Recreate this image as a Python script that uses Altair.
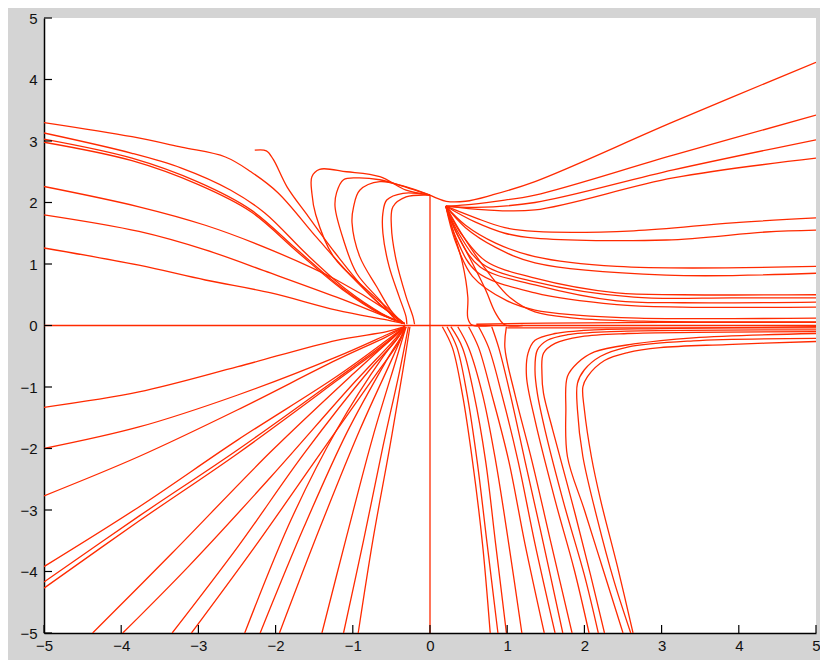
import altair as alt
import pandas as pd

TICKS = [-5, -4, -3, -2, -1, 0, 1, 2, 3, 4, 5]
RED = "#ff2a00"

# upper-left trajectories flowing into the node near (-0.33, 0)
UL_X = [
    [-5, -3.86, -3.22, -2.65, -2.32, -1.97, -1.46, -0.95, -0.56, -0.33],
    [-5, -3.86, -3.22, -2.58, -2.14, -1.59, -1.08, -0.63, -0.33],
    [-5, -3.86, -3.0, -2.32, -1.72, -1.14, -0.63, -0.33],
    [-5, -3.86, -3.0, -2.32, -1.72, -1.14, -0.63, -0.33],
    [-2.27, -2.12, -2.03, -1.85, -1.58, -1.21, -0.78, -0.44, -0.33],
    [-5, -3.77, -2.91, -2.06, -1.21, -0.56, -0.33],
    [-5, -3.77, -2.91, -2.06, -1.21, -0.56, -0.33],
    [-5, -3.77, -2.91, -2.06, -1.21, -0.56, -0.33],
]
UL_Y = [
    [3.30, 3.07, 2.90, 2.74, 2.50, 2.16, 1.42, 0.71, 0.25, 0.03],
    [3.13, 2.80, 2.56, 2.20, 1.83, 1.15, 0.58, 0.20, 0.03],
    [3.03, 2.72, 2.33, 1.88, 1.23, 0.61, 0.19, 0.03],
    [2.98, 2.68, 2.29, 1.85, 1.20, 0.59, 0.18, 0.03],
    [2.85, 2.84, 2.70, 2.25, 1.78, 1.15, 0.50, 0.12, 0.03],
    [2.26, 1.93, 1.63, 1.23, 0.74, 0.25, 0.03],
    [1.80, 1.53, 1.23, 0.85, 0.46, 0.14, 0.03],
    [1.26, 0.98, 0.74, 0.53, 0.25, 0.09, 0.03],
]

# arcs from the top of the vertical line (0, 2.12) curling down into the node
ARC_X = [
    [0, -0.31, -0.65, -1.08, -1.43, -1.53, -1.53, -1.48, -1.25, -0.82, -0.48, -0.36],
    [0, -0.44, -0.65, -0.95, -1.12, -1.21, -1.23, -1.12, -0.95, -0.65, -0.44, -0.33],
    [0, -0.35, -0.65, -0.91, -0.99, -1.01, -0.91, -0.69, -0.48, -0.33],
    [0, -0.35, -0.56, -0.61, -0.61, -0.53, -0.40, -0.31, -0.30],
    [0, -0.31, -0.48, -0.50, -0.44, -0.31, -0.22, -0.20],
]
ARC_Y = [
    [2.12, 2.20, 2.42, 2.50, 2.54, 2.42, 2.15, 1.80, 1.12, 0.58, 0.20, 0.03],
    [2.12, 2.30, 2.37, 2.40, 2.37, 2.16, 1.93, 1.39, 0.85, 0.41, 0.09, 0.03],
    [2.12, 2.27, 2.34, 2.20, 1.93, 1.67, 1.12, 0.63, 0.20, 0.03],
    [2.12, 2.15, 2.04, 1.83, 1.50, 0.96, 0.47, 0.14, 0.02],
    [2.12, 2.09, 1.93, 1.61, 1.07, 0.47, 0.14, 0.02],
]

# fan of trajectories leaving the point near (0.2, 1.94) to the right
FAN_X = [
    [0, 0.21, 0.46, 0.80, 1.36, 3.15, 5.0],
    [0.205, 0.46, 0.85, 1.36, 3.15, 5.0],
    [0.205, 0.59, 1.36, 3.15, 5.0],
    [0.205, 0.72, 1.36, 3.15, 5.0],
    [0.205, 0.59, 0.97, 1.36, 2.64, 3.92, 5.0],
    [0.205, 0.59, 0.97, 1.36, 3.06, 4.35, 5.0],
    [0.205, 0.46, 0.85, 1.36, 2.42, 5.0],
    [0.205, 0.46, 0.85, 1.36, 3.06, 5.0],
    [0.205, 0.40, 0.72, 1.36, 2.42, 3.27, 5.0],
    [0.205, 0.38, 0.68, 1.36, 2.64, 3.92, 5.0],
    [0.205, 0.36, 0.65, 1.36, 2.42, 3.27, 5.0],
    [0.205, 0.34, 0.60, 1.36, 2.42, 3.27, 5.0],
    [0.205, 0.32, 0.55, 1.0, 1.36, 1.9, 2.7, 5.0],
    [0.205, 0.46, 0.78, 1.04, 1.36, 1.87, 2.77, 5.0],
    [0.205, 0.295, 0.42, 0.49, 0.49, 0.54, 0.8],
    [0.205, 0.33, 0.53, 0.72, 0.85, 0.97, 1.2],
]
FAN_Y = [
    [2.12, 2.02, 2.02, 2.12, 2.34, 3.31, 4.28],
    [1.94, 1.96, 2.02, 2.12, 2.77, 3.42],
    [1.94, 1.92, 2.00, 2.53, 3.02],
    [1.94, 1.88, 1.88, 2.40, 2.72],
    [1.94, 1.75, 1.59, 1.53, 1.54, 1.67, 1.75],
    [1.94, 1.68, 1.50, 1.42, 1.39, 1.52, 1.55],
    [1.94, 1.63, 1.34, 1.12, 0.96, 0.96],
    [1.94, 1.59, 1.27, 1.02, 0.82, 0.85],
    [1.94, 1.50, 1.05, 0.77, 0.53, 0.50, 0.50],
    [1.94, 1.48, 1.00, 0.71, 0.46, 0.45, 0.45],
    [1.94, 1.46, 0.95, 0.66, 0.40, 0.37, 0.38],
    [1.94, 1.42, 0.88, 0.53, 0.34, 0.30, 0.30],
    [1.94, 1.40, 0.80, 0.40, 0.25, 0.17, 0.12, 0.12],
    [1.94, 1.39, 0.82, 0.45, 0.22, 0.12, 0.07, 0.06],
    [1.94, 1.55, 1.02, 0.46, 0.12, 0.01, 0.0],
    [1.94, 1.55, 1.06, 0.58, 0.20, 0.01, 0.0],
]

# lower-left trajectories from the left edge into the node
LL_X = [-5, -3.77, -2.49, -1.21, -0.56, -0.33]
LL_Y = [
    [-1.33, -1.08, -0.67, -0.24, -0.10, -0.02],
    [-2.00, -1.65, -1.13, -0.51, -0.15, -0.02],
    [-2.77, -2.13, -1.37, -0.56, -0.18, -0.02],
    [-3.92, -2.95, -1.86, -0.83, -0.24, -0.02],
    [-4.17, -3.10, -2.02, -0.87, -0.27, -0.02],
    [-4.27, -3.18, -2.08, -0.90, -0.29, -0.02],
]

# lower-left trajectories from the bottom edge into the node
LB_X = [
    [-4.37, -3.34, -2.06, -0.99, -0.44, -0.33],
    [-3.98, -3.13, -2.06, -0.99, -0.44, -0.33],
    [-3.34, -2.49, -1.63, -0.78, -0.44, -0.33],
    [-3.09, -2.27, -1.42, -0.69, -0.39, -0.33],
    [-2.40, -1.80, -1.21, -0.61, -0.37, -0.33],
    [-2.20, -1.63, -1.08, -0.56, -0.35, -0.33],
    [-1.95, -1.42, -0.91, -0.48, -0.31],
    [-1.40, -1.08, -0.74, -0.44, -0.31],
    [-1.12, -0.86, -0.61, -0.39, -0.28],
    [-0.93, -0.74, -0.52, -0.35, -0.26],
]
LB_Y = [
    [-5, -3.70, -2.05, -0.78, -0.15, -0.02],
    [-5, -3.92, -2.46, -0.94, -0.20, -0.02],
    [-5, -3.60, -2.08, -0.72, -0.24, -0.02],
    [-5, -3.60, -2.08, -0.78, -0.24, -0.02],
    [-5, -3.16, -1.70, -0.51, -0.12, -0.02],
    [-5, -3.27, -1.75, -0.56, -0.12, -0.02],
    [-5, -3.27, -1.70, -0.51, -0.02],
    [-5, -3.43, -1.81, -0.56, -0.02],
    [-5, -3.49, -1.97, -0.72, -0.02],
    [-5, -3.49, -1.97, -0.72, -0.02],
]

# lower-right trajectories leaving the y = 0 line downward
LD_X = [
    [0.16, 0.29, 0.42, 0.55, 0.68, 0.78],
    [0.22, 0.35, 0.48, 0.61, 0.74, 0.88],
    [0.27, 0.42, 0.57, 0.72, 0.85, 0.99],
    [0.36, 0.50, 0.68, 0.85, 1.02, 1.19],
    [0.50, 0.63, 0.80, 1.02, 1.23, 1.48],
    [0.63, 0.76, 0.93, 1.14, 1.36, 1.62],
    [0.80, 0.89, 1.04, 1.23, 1.47, 1.72],
    [0.99, 0.97, 1.10, 1.32, 1.57, 1.84],
]
LD_Y = [-0.02, -0.36, -1.12, -2.2, -3.55, -5]

# hooks coming in from the right just below y = 0 and turning down
HK_X = [
    [5.0, 3.84, 2.98, 2.56, 2.26, 2.04, 1.98, 2.0, 2.09, 2.21, 2.43, 2.63],
    [5.0, 3.41, 2.56, 2.21, 2.0, 1.91, 1.91, 1.98, 2.17, 2.38, 2.60],
    [5.0, 3.41, 2.64, 2.13, 1.91, 1.78, 1.76, 1.78, 2.0, 2.25, 2.50],
    [5.0, 2.98, 2.13, 1.62, 1.36, 1.27, 1.25, 1.36, 1.62, 1.87, 2.06],
    [5.0, 2.34, 1.78, 1.52, 1.39, 1.36, 1.39, 1.49, 1.74, 2.0, 2.18],
    [5.0, 2.56, 1.96, 1.62, 1.47, 1.45, 1.47, 1.59, 1.85, 2.08, 2.26],
]
HK_Y = [
    [-0.26, -0.31, -0.36, -0.44, -0.57, -0.83, -1.0, -1.37, -2.13, -2.84, -3.93, -5],
    [-0.21, -0.25, -0.35, -0.50, -0.72, -0.94, -1.37, -2.13, -3.16, -4.14, -5],
    [-0.13, -0.20, -0.30, -0.43, -0.61, -0.83, -1.37, -2.13, -3.0, -4.0, -5],
    [-0.02, -0.05, -0.07, -0.13, -0.24, -0.45, -0.83, -1.54, -2.84, -3.98, -5],
    [-0.07, -0.10, -0.15, -0.24, -0.40, -0.72, -1.10, -1.70, -2.92, -4.06, -5],
    [-0.10, -0.13, -0.18, -0.29, -0.45, -0.78, -1.10, -1.70, -2.92, -4.06, -5],
]

# band of trajectories hugging y = 0 on the right
BAND_X = [[0.6, 1.5, 3.0, 5.0], [1.0, 2.0, 5.0]]
BAND_Y = [[0.02, 0.04, 0.05, 0.05], [-0.04, -0.04, -0.04]]

# invariant lines
AXIS_X = [[-5, 5], [0, 0]]
AXIS_Y = [[0, 0], [-5, 2.12]]

rows = []


def add(name, xs_list, ys_list):
    for i, (xs, ys) in enumerate(zip(xs_list, ys_list)):
        for j, (x, y) in enumerate(zip(xs, ys)):
            rows.append({"id": f"{name}{i}", "o": j, "x": x, "y": y})


add("ul", UL_X, UL_Y)
add("arc", ARC_X, ARC_Y)
add("fan", FAN_X, FAN_Y)
add("ll", [LL_X] * len(LL_Y), LL_Y)
add("lb", LB_X, LB_Y)
add("ld", LD_X, [LD_Y] * len(LD_X))
add("hk", HK_X, HK_Y)
add("band", BAND_X, BAND_Y)
add("ax", AXIS_X, AXIS_Y)

df = pd.DataFrame(rows)
tick_df = pd.DataFrame({"x": TICKS, "y": TICKS})

W, H = 772, 615
xs = alt.Scale(domain=[-5, 5], nice=False, zero=False)
ys = alt.Scale(domain=[-5, 5], nice=False, zero=False)
common = dict(values=TICKS, ticks=False, grid=False, title=None, labelFlush=False,
              labelOverlap=False, labelFontSize=15, labelFont="Liberation Sans",
              labelColor="#111111", domainColor="black", domainWidth=1.5)
XAX = alt.Axis(labelPadding=5, **common)
YAX = alt.Axis(labelPadding=7, **common)

lines = alt.Chart(df).mark_line(color=RED, strokeWidth=1.3, interpolate="catmull-rom",
                                clip=True).encode(
    x=alt.X("x:Q", scale=xs, axis=XAX),
    y=alt.Y("y:Q", scale=ys, axis=YAX),
    detail="id:N",
    order="o:Q",
)

xticks = alt.Chart(tick_df).mark_rule(color="black", strokeWidth=1.2).encode(
    x=alt.X("x:Q", scale=xs, axis=XAX),
    y=alt.value(H),
    y2=alt.value(H - 8),
)
yticks = alt.Chart(tick_df).mark_rule(color="black", strokeWidth=1.2).encode(
    y=alt.Y("y:Q", scale=ys, axis=YAX),
    x=alt.value(0),
    x2=alt.value(8),
)

chart = alt.layer(lines, xticks, yticks).properties(
    width=W, height=H,
    autosize=alt.AutoSizeParams(type="none"),
    padding={"left": 36, "top": 10, "right": 4, "bottom": 27},
    background="#d4d4d4",
).configure_view(fill="white", stroke=None)

chart.save("out.html", embed_options={"renderer": "svg", "actions": False})
